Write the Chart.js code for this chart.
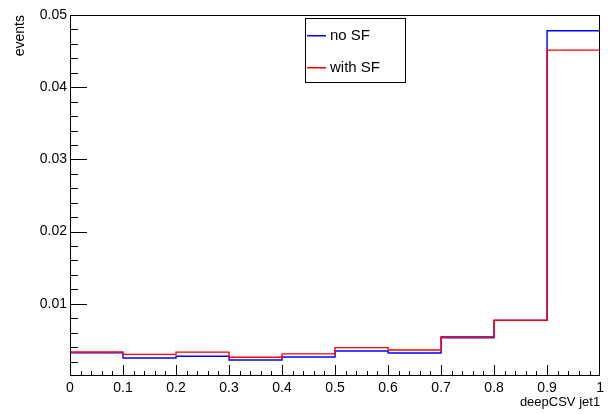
<!DOCTYPE html>
<html>
<head>
<meta charset="utf-8">
<script src="https://cdn.jsdelivr.net/npm/chart.js@4/dist/chart.umd.min.js"></script>
<style>
html,body{margin:0;padding:0;background:#fff;}
#wrap{width:608px;height:414px;position:relative;}
</style>
</head>
<body>
<div id="wrap"><canvas id="c" width="608" height="414"></canvas></div>
<script>
const binEdges = [0, 0.1, 0.2, 0.3, 0.4, 0.5, 0.6, 0.7, 0.8, 0.9, 1.0];
const noSF   = [0.00320, 0.00250, 0.00274, 0.00222, 0.00264, 0.00347, 0.00319, 0.00528, 0.00770, 0.04782];
const withSF = [0.00333, 0.00300, 0.00330, 0.00260, 0.00306, 0.00393, 0.00361, 0.00546, 0.00773, 0.04514];
const seriesLabels = ['no SF', 'with SF'];
const seriesColors = ['#0000ff', '#ff0000'];
const yTickLabels = ['0.01', '0.02', '0.03', '0.04', '0.05'];
const xTickLabels = ['0', '0.1', '0.2', '0.3', '0.4', '0.5', '0.6', '0.7', '0.8', '0.9', '1'];

function histPoints(vals) {
  const pts = vals.map((v, i) => ({x: binEdges[i], y: v}));
  pts.push({x: binEdges[binEdges.length - 1], y: vals[vals.length - 1]});
  return pts;
}

const FONT = '"Liberation Sans", Arial, Helvetica, sans-serif';

const rootFrame = {
  id: 'rootFrame',
  afterDatasetsDraw(chart) {
    const ctx = chart.ctx;
    const a = chart.chartArea;
    const xs = chart.scales.x, ys = chart.scales.y;
    ctx.save();
    ctx.strokeStyle = '#000';
    ctx.lineWidth = 1;
    ctx.strokeRect(Math.round(a.left) + 0.5, Math.round(a.top) + 0.5, Math.round(a.right - a.left) - 1, Math.round(a.bottom - a.top) - 1);
    for (let k = 1; k <= 25; k++) {
      const v = k * 0.002;
      const y = Math.round(ys.getPixelForValue(v)) + 0.5;
      const len = (k % 5 === 0) ? 17 : 8;
      ctx.beginPath();
      ctx.moveTo(a.left, y);
      ctx.lineTo(a.left + len, y);
      ctx.stroke();
    }
    for (let k = 1; k < 50; k++) {
      const v = k * 0.02;
      const x = Math.round(xs.getPixelForValue(v)) + 0.5;
      const len = (k % 5 === 0) ? 11 : 5;
      ctx.beginPath();
      ctx.moveTo(x, a.bottom);
      ctx.lineTo(x, a.bottom - len);
      ctx.stroke();
    }
    // legend box
    const lx = 305, ly = 18, lw = 100, lh = 64;
    ctx.fillStyle = '#fff';
    ctx.fillRect(lx, ly, lw, lh);
    ctx.strokeStyle = '#000';
    ctx.strokeRect(lx + 0.5, ly + 0.5, lw, lh);
    ctx.font = '15px ' + FONT;
    ctx.textBaseline = 'middle';
    ctx.textAlign = 'left';
    const rows = [35, 67];
    for (let i = 0; i < seriesLabels.length; i++) {
      ctx.fillStyle = seriesColors[i];
      ctx.fillRect(307, rows[i], 19, 1.5);
      ctx.fillStyle = '#000';
      ctx.fillText(seriesLabels[i], 330, rows[i] + 1);
    }
    ctx.restore();
  }
};

new Chart(document.getElementById('c'), {
  type: 'line',
  data: {
    datasets: [
      {label: seriesLabels[0], data: histPoints(noSF), borderColor: seriesColors[0], borderWidth: 1.4, stepped: 'before', pointRadius: 0, fill: false, order: 1},
      {label: seriesLabels[1], data: histPoints(withSF), borderColor: seriesColors[1], borderWidth: 1.4, stepped: 'before', pointRadius: 0, fill: false, order: 0}
    ]
  },
  options: {
    responsive: false,
    animation: false,
    devicePixelRatio: 1,
    layout: {padding: {left: 0, right: 3, top: 15, bottom: 0}},
    plugins: {legend: {display: false}, tooltip: {enabled: false}},
    scales: {
      x: {
        type: 'linear', min: 0, max: 1,
        border: {display: false},
        grid: {display: false, drawTicks: false, tickLength: 0},
        afterFit(s) { s.height = 38; },
        ticks: {
          stepSize: 0.1, autoSkip: false, maxRotation: 0, padding: 4,
          color: '#000', font: {family: FONT, size: 14},
          callback: (v) => { const i = Math.round(v * 10); return xTickLabels[i]; }
        },
        title: {display: true, text: 'deepCSV jet1', align: 'end', color: '#000',
                font: {family: FONT, size: 13}, padding: {top: 0, bottom: 4}}
      },
      y: {
        type: 'linear', min: 0, max: 0.05,
        border: {display: false},
        grid: {display: false, drawTicks: false, tickLength: 0},
        afterFit(s) { s.width = 70; },
        ticks: {
          stepSize: 0.01, autoSkip: false, padding: 3,
          color: '#000', font: {family: FONT, size: 14},
          callback: (v) => { const i = Math.round(v * 100); return i === 0 ? '' : yTickLabels[i - 1]; }
        },
        title: {display: true, text: 'events', align: 'end', color: '#000',
                font: {family: FONT, size: 14}, padding: {top: 12, bottom: 0}}
      }
    }
  },
  plugins: [rootFrame]
});
</script>
</body>
</html>
